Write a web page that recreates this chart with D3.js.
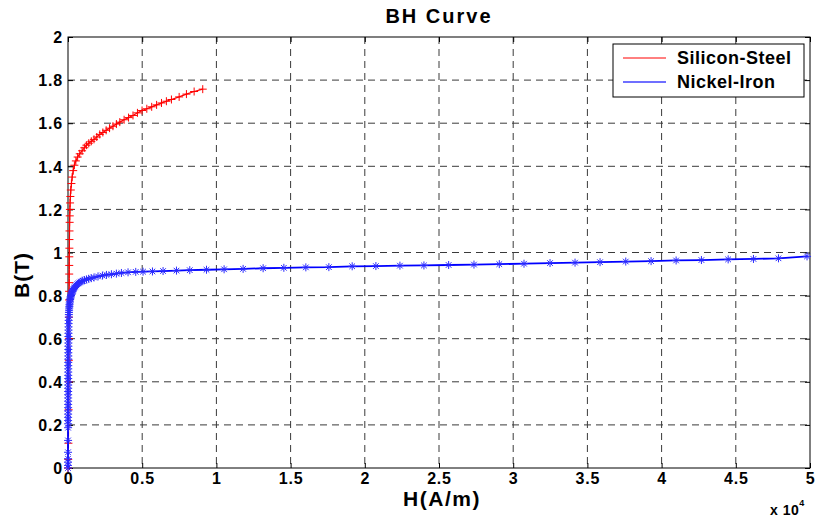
<!DOCTYPE html>
<html>
<head>
<meta charset="utf-8">
<script src="https://cdn.jsdelivr.net/npm/d3@7"></script>
<style>
  body { margin: 0; background: #fff; }
  svg { display: block; }
  text { font-family: "Liberation Sans", Arial, sans-serif; font-weight: bold; fill: #000; }
</style>
</head>
<body>
<script>
// silicon-steel, H (A/m) and B (T)
var siH = [0, 15, 30, 45, 52, 58, 63, 68, 72, 75, 78, 81, 84, 88, 92, 97, 103, 110, 118, 128,
  140, 160, 190, 230, 280, 350, 430, 530, 650, 790, 950, 1100, 1240, 1400, 1570, 1750, 1940,
  2140, 2350, 2570, 2800, 3030, 3260, 3490, 3780, 4080, 4380, 4680, 4990, 5310, 5640, 5970,
  6300, 6630, 6970, 7490, 7980, 8500, 9080];
var siB = [0, 0.04, 0.115, 0.27, 0.40, 0.50, 0.60, 0.70, 0.78, 0.82, 0.86, 0.90, 0.94, 0.98,
  1.02, 1.06, 1.10, 1.14, 1.17, 1.20, 1.23, 1.26, 1.29, 1.32, 1.35, 1.38, 1.405, 1.425, 1.443,
  1.458, 1.472, 1.486, 1.498, 1.507, 1.516, 1.525, 1.536, 1.548, 1.557, 1.567, 1.577, 1.586,
  1.596, 1.605, 1.616, 1.626, 1.636, 1.648, 1.659, 1.667, 1.676, 1.685, 1.694, 1.702, 1.71,
  1.722, 1.735, 1.747, 1.758];

// nickel-iron
var niH = [0, 0.5, 1, 1.5, 2.5, 4, 5.5, 6, 6.5, 7, 7.5, 8, 8.5, 9, 9.5, 10, 10.6, 11.2, 11.9,
  12.6, 13.3, 14, 14.8, 15.6, 16.5, 17.4, 18.4, 19.5, 20.6, 21.8, 23, 24.5, 26, 27.5, 29.5,
  31.5, 34, 37, 41, 46, 52, 58, 65, 73, 82, 92, 103, 115, 129, 145, 162, 182, 203, 228, 255,
  286, 320, 359, 402, 450, 504, 564, 632, 708, 793, 888, 995, 1114, 1248, 1397, 1565, 1753,
  2023, 2320, 2590, 2925, 3260, 3600, 4046, 4565, 5057, 5691, 6406, 7310, 8206, 9332, 10519,
  11800, 13149, 14545, 16028, 17579, 19150, 20748, 22367, 23985, 25650, 27357, 29063, 30728,
  32482, 34167, 35853, 37586, 39292, 40978, 42684, 44484, 46190, 47876, 49800];
var niB = [0, 0.012, 0.027, 0.043, 0.073, 0.128, 0.187, 0.205, 0.22, 0.235, 0.25, 0.265, 0.28,
  0.295, 0.31, 0.325, 0.34, 0.355, 0.37, 0.385, 0.40, 0.415, 0.43, 0.445, 0.46, 0.475, 0.49,
  0.505, 0.52, 0.535, 0.55, 0.565, 0.58, 0.595, 0.61, 0.625, 0.64, 0.655, 0.67, 0.685, 0.70,
  0.712, 0.722, 0.732, 0.742, 0.750, 0.758, 0.766, 0.774, 0.782, 0.788, 0.794, 0.800, 0.806,
  0.812, 0.818, 0.823, 0.828, 0.833, 0.838, 0.843, 0.848, 0.853, 0.857, 0.861, 0.865, 0.869,
  0.872, 0.875, 0.878, 0.881, 0.884, 0.889, 0.893, 0.896, 0.899, 0.902, 0.905, 0.908, 0.910,
  0.911, 0.912, 0.914, 0.916, 0.918, 0.920, 0.922, 0.924, 0.927, 0.929, 0.931, 0.932, 0.936,
  0.937, 0.939, 0.940, 0.942, 0.944, 0.946, 0.948, 0.951, 0.953, 0.955, 0.958, 0.960, 0.963,
  0.965, 0.968, 0.970, 0.973, 0.982];

var xTicks = [0, 5000, 10000, 15000, 20000, 25000, 30000, 35000, 40000, 45000, 50000];
var xTickLabels = ["0", "0.5", "1", "1.5", "2", "2.5", "3", "3.5", "4", "4.5", "5"];
var yTicks = [0, 0.2, 0.4, 0.6, 0.8, 1, 1.2, 1.4, 1.6, 1.8, 2];
var yTickLabels = ["0", "0.2", "0.4", "0.6", "0.8", "1", "1.2", "1.4", "1.6", "1.8", "2"];
var seriesNames = ["Silicon-Steel", "Nickel-Iron"];

var width = 815, height = 520;
var margin = {top: 37, right: 5, bottom: 52, left: 68};
var w = width - margin.left - margin.right,
    h = height - margin.top - margin.bottom;

var x = d3.scaleLinear().domain([0, 50000]).range([0, w]);
var y = d3.scaleLinear().domain([0, 2]).range([h, 0]);

var svg = d3.select("body").append("svg")
    .attr("width", width)
    .attr("height", height);

var g = svg.append("g")
    .attr("transform", "translate(" + margin.left + "," + margin.top + ")");

// dashed grid
g.append("g").selectAll("line")
  .data(xTicks.slice(1, -1))
  .enter().append("line")
    .attr("x1", d => x(d)).attr("x2", d => x(d))
    .attr("y1", 0).attr("y2", h)
    .attr("stroke", "#3a3a3a").attr("stroke-width", 1)
    .attr("stroke-dasharray", "7,5");
g.append("g").selectAll("line")
  .data(yTicks.slice(1, -1))
  .enter().append("line")
    .attr("x1", 0).attr("x2", w)
    .attr("y1", d => y(d)).attr("y2", d => y(d))
    .attr("stroke", "#3a3a3a").attr("stroke-width", 1)
    .attr("stroke-dasharray", "7,5");

// axes, matlab style ticks pointing inward
var xAxis = g.append("g")
    .attr("transform", "translate(0," + h + ")")
    .call(d3.axisBottom(x).tickValues(xTicks)
      .tickFormat((d, i) => xTickLabels[i]).tickSize(-5).tickPadding(5));
var yAxis = g.append("g")
    .call(d3.axisLeft(y).tickValues(yTicks)
      .tickFormat((d, i) => yTickLabels[i]).tickSize(-5).tickPadding(5));
g.append("g").call(d3.axisTop(x).tickValues(xTicks).tickFormat("").tickSize(-5));
g.append("g").attr("transform", "translate(" + w + ",0)")
  .call(d3.axisRight(y).tickValues(yTicks).tickFormat("").tickSize(-5));

g.selectAll(".domain").remove();
g.selectAll(".tick line").attr("stroke", "#000");
g.selectAll(".tick text")
  .style("font-family", "'Liberation Sans', Arial, sans-serif")
  .style("font-weight", "bold")
  .style("font-size", "16px")
  .style("letter-spacing", "0.8px")
  .attr("fill", "#000");
yAxis.selectAll(".tick text").attr("dy", "0.36em");

g.append("rect")
    .attr("width", w).attr("height", h)
    .attr("fill", "none").attr("stroke", "#000").attr("stroke-width", 1);

// curves
var si = siH.map((d, i) => [d, siB[i]]);
var ni = niH.map((d, i) => [d, niB[i]]);

var line = d3.line().x(d => x(d[0])).y(d => y(d[1]));

g.append("path").datum(si)
    .attr("d", line)
    .attr("fill", "none").attr("stroke", "#ff0000").attr("stroke-width", 1.2);

g.append("g").selectAll("path")
  .data(si)
  .enter().append("path")
    .attr("transform", d => "translate(" + x(d[0]) + "," + y(d[1]) + ")")
    .attr("d", "M-4,0H4M0,-4V4")
    .attr("stroke", "#ff0000").attr("stroke-width", 1).attr("fill", "none");

g.append("path").datum(ni)
    .attr("d", line)
    .attr("fill", "none").attr("stroke", "#0000ff").attr("stroke-width", 1.8);

g.append("g").selectAll("path")
  .data(ni)
  .enter().append("path")
    .attr("transform", d => "translate(" + x(d[0]) + "," + y(d[1]) + ")")
    .attr("d", "M-4,0H4M0,-4V4M-2.8,-2.8L2.8,2.8M-2.8,2.8L2.8,-2.8")
    .attr("stroke", "#2a2aff").attr("stroke-width", 1).attr("fill", "none");

// legend
var lg = g.append("g").attr("transform", "translate(" + (w - 197) + ",7)");
lg.append("rect")
    .attr("width", 191).attr("height", 53)
    .attr("fill", "#fff").attr("stroke", "#000").attr("stroke-width", 1);
var legColors = ["#ff0000", "#6f6fff"];
var legWidths = [1, 2];
seriesNames.forEach(function(name, i) {
  var yy = 14 + i * 24;
  lg.append("line")
      .attr("x1", 10).attr("x2", 53).attr("y1", yy).attr("y2", yy)
      .attr("stroke", legColors[i]).attr("stroke-width", legWidths[i]);
  lg.append("text")
      .attr("x", 64).attr("y", yy + 6)
      .style("font-size", "18px")
      .style("letter-spacing", "0.5px")
      .text(name);
});

// titles
svg.append("text")
    .attr("x", margin.left + w / 2).attr("y", 23)
    .attr("text-anchor", "middle")
    .style("font-size", "20px")
    .style("letter-spacing", "2px")
    .text("BH Curve");

svg.append("text")
    .attr("x", 442).attr("y", 506)
    .attr("text-anchor", "middle")
    .style("font-size", "21px")
    .style("letter-spacing", "1.5px")
    .text("H(A/m)");

svg.append("text")
    .attr("transform", "translate(29,275) rotate(-90)")
    .attr("text-anchor", "middle")
    .style("font-size", "21px")
    .style("letter-spacing", "1px")
    .text("B(T)");

var ex = svg.append("text")
    .attr("x", 770).attr("y", 515)
    .style("font-size", "14px")
    .style("letter-spacing", "0.5px");
ex.append("tspan").text("x 10");
ex.append("tspan").attr("dy", -9).style("font-size", "9px").text("4");
</script>
</body>
</html>
